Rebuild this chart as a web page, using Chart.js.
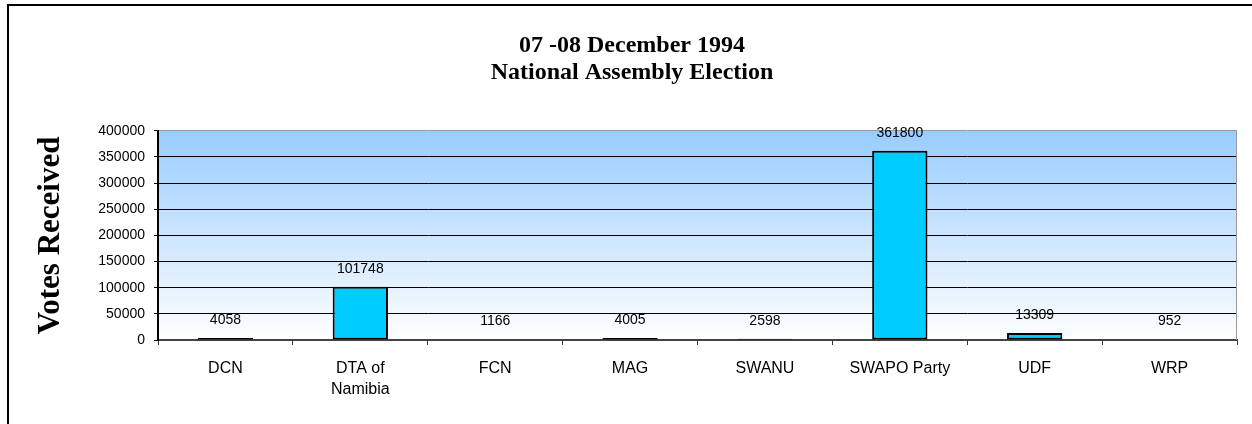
<!DOCTYPE html>
<html>
<head>
<meta charset="utf-8">
<script src="https://cdn.jsdelivr.net/npm/chart.js@4.4.1/dist/chart.umd.min.js"></script>
<style>
  html, body { margin: 0; padding: 0; background: #ffffff; }
  #wrap { width: 1252px; height: 424px; position: relative; }
</style>
</head>
<body>
<div id="wrap"><canvas id="c"></canvas></div>
<script>
// ---- data ----
const titleLines = ['07 -08 December 1994', 'National Assembly Election'];
const yAxisTitle = 'Votes Received';
const categories = ['DCN', ['DTA of', 'Namibia'], 'FCN', 'MAG', 'SWANU', 'SWAPO Party', 'UDF', 'WRP'];
const votes = [4058, 101748, 1166, 4005, 2598, 361800, 13309, 952];
const yTicks = [0, 50000, 100000, 150000, 200000, 250000, 300000, 350000, 400000];

const PLOT_LEFT = 158, PLOT_RIGHT = 1237, PLOT_TOP = 131, PLOT_BOTTOM = 340;
const CANVAS_W = 1252, CANVAS_H = 424;
const PAD_LEFT = 27;

const framePlugin = {
  id: 'frame',
  beforeDraw(chart) {
    const ctx = chart.ctx;
    const a = chart.chartArea;
    ctx.save();
    ctx.strokeStyle = '#000000';
    ctx.lineWidth = 2;
    ctx.strokeRect(8, 5, 3000, 3000);
    const g = ctx.createLinearGradient(0, a.top, 0, a.bottom);
    g.addColorStop(0, '#99CCFF');
    g.addColorStop(1, '#FFFFFF');
    ctx.fillStyle = g;
    ctx.fillRect(a.left, a.top, a.right - a.left, a.bottom - a.top);
    ctx.restore();
  },
  afterDraw(chart) {
    const ctx = chart.ctx;
    const a = chart.chartArea;
    ctx.save();
    ctx.strokeStyle = '#999999';
    ctx.lineWidth = 1;
    ctx.beginPath();
    ctx.moveTo(a.right - 0.5, a.top);
    ctx.lineTo(a.right - 0.5, a.bottom);
    ctx.stroke();
    ctx.restore();
  }
};

const valueLabels = {
  id: 'valueLabels',
  afterDatasetsDraw(chart) {
    const ctx = chart.ctx;
    const meta = chart.getDatasetMeta(0);
    ctx.save();
    ctx.font = '14px "Liberation Sans", Arial, sans-serif';
    ctx.fillStyle = '#000000';
    ctx.textAlign = 'center';
    ctx.textBaseline = 'middle';
    meta.data.forEach((bar, i) => {
      ctx.fillText(String(votes[i]), bar.x, bar.y - 18);
    });
    ctx.restore();
  }
};

new Chart(document.getElementById('c'), {
  type: 'bar',
  data: {
    labels: categories,
    datasets: [{
      data: votes,
      backgroundColor: '#00CCFF',
      borderColor: '#000000',
      borderWidth: 2,
      borderSkipped: false,
      categoryPercentage: 1.0,
      barPercentage: 0.41
    }]
  },
  options: {
    responsive: true,
    maintainAspectRatio: false,
    animation: false,
    devicePixelRatio: 1,
    layout: { padding: { left: PAD_LEFT, right: CANVAS_W - PLOT_RIGHT, top: 0, bottom: 0 } },
    plugins: {
      legend: { display: false },
      tooltip: { enabled: false },
      title: {
        display: true,
        text: titleLines,
        color: '#000000',
        font: { family: '"Liberation Serif", "Times New Roman", serif', size: 24, weight: 'bold', lineHeight: 1.1 },
        padding: { top: 33, bottom: 45 }
      }
    },
    scales: {
      x: {
        grid: { display: true, drawOnChartArea: false, drawTicks: true, tickLength: 5, color: '#333333', offset: true },
        border: { display: true, color: '#444444', width: 2 },
        ticks: {
          color: '#000000',
          padding: 13,
          maxRotation: 0,
          autoSkip: false,
          font: { family: '"Liberation Sans", Arial, sans-serif', size: 16, lineHeight: 1.3 }
        },
        afterFit(scale) { scale.height = CANVAS_H - PLOT_BOTTOM; }
      },
      y: {
        min: 0,
        max: 400000,
        afterBuildTicks(scale) { scale.ticks = yTicks.map(v => ({ value: v })); },
        grid: {
          drawTicks: true,
          tickLength: 4,
          lineWidth: 1,
          color: (c) => (c.tick && c.tick.value === 400000) ? '#999999' : '#000000',
          tickColor: '#000000'
        },
        border: { display: true, color: '#000000', width: 2 },
        ticks: {
          color: '#000000',
          padding: 9,
          font: { family: '"Liberation Sans", Arial, sans-serif', size: 14 },
          callback: (v) => String(v)
        },
        title: {
          display: true,
          text: yAxisTitle,
          color: '#000000',
          font: { family: '"Liberation Serif", "Times New Roman", serif', size: 31, weight: 'bold', lineHeight: 1.2 },
          padding: { top: 5, bottom: 0 }
        },
        afterFit(scale) { scale.width = PLOT_LEFT - PAD_LEFT; }
      }
    }
  },
  plugins: [framePlugin, valueLabels]
});
</script>
</body>
</html>
